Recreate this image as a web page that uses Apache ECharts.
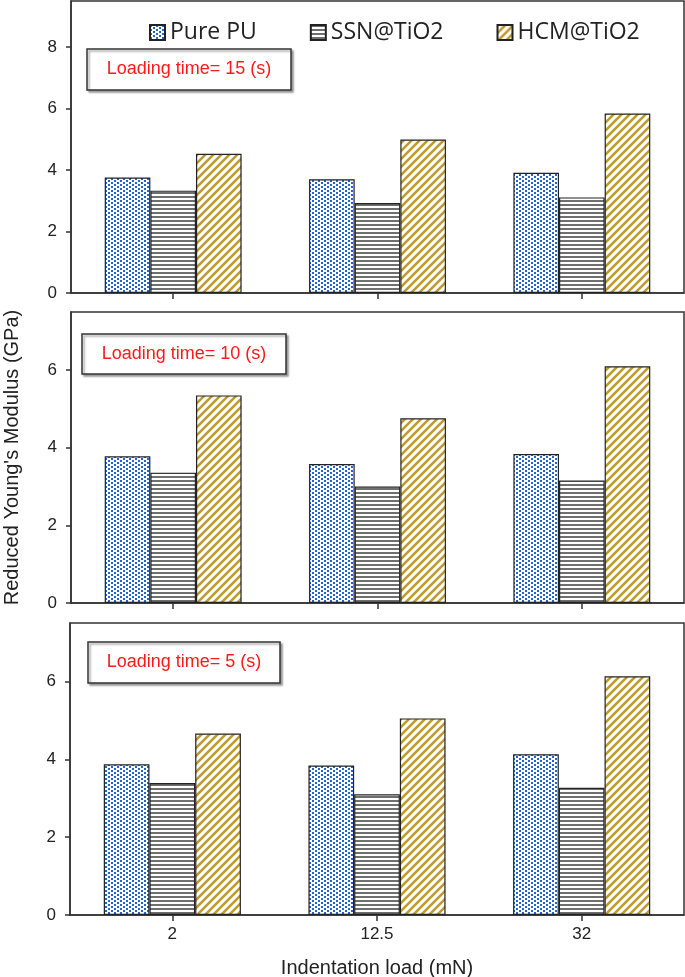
<!DOCTYPE html>
<html>
<head>
<meta charset="utf-8">
<script src="https://cdn.jsdelivr.net/npm/echarts@6/dist/echarts.min.js"></script>
<style>
html,body{margin:0;padding:0;background:#fff;}
#chart{width:685px;height:977px;}
</style>
</head>
<body>
<div id="chart"></div>
<script>
// ---- data ----
var categories = ['2', '12.5', '32'];
var seriesNames = ['Pure PU', 'SSN@TiO2', 'HCM@TiO2'];
var panelLabels = ['Loading time= 15 (s)', 'Loading time= 10 (s)', 'Loading time= 5 (s)'];
var t15_pure = [3.76, 3.70, 3.91];
var t15_ssn  = [3.33, 2.93, 3.11];
var t15_hcm  = [4.53, 4.99, 5.84];
var t10_pure = [3.78, 3.58, 3.84];
var t10_ssn  = [3.36, 3.00, 3.16];
var t10_hcm  = [5.35, 4.76, 6.10];
var t5_pure  = [3.87, 3.84, 4.13];
var t5_ssn   = [3.39, 3.10, 3.27];
var t5_hcm   = [4.66, 5.05, 6.13];
var yTicksTop = [0, 2, 4, 6, 8];
var yTicksLow = [0, 2, 4, 6];
var yMax = [9.5, 7.5, 7.5];

// ---- patterns ----
function mk(w, h, draw) {
  var c = document.createElement('canvas');
  c.width = w; c.height = h;
  var g = c.getContext('2d');
  g.fillStyle = '#fff'; g.fillRect(0, 0, w, h);
  draw(g);
  return { image: c, repeat: 'repeat' };
}
var patDots = mk(6, 4, function (g) {
  g.fillStyle = '#2264d4';
  g.fillRect(0, 0, 2, 2);
  g.fillRect(3, 2, 2, 2);
});
var patStripe = mk(4, 4, function (g) {
  g.fillStyle = '#6f6f6f';
  g.fillRect(0, 0, 4, 2);
});
var patDiag = mk(8, 8, function (g) {
  g.strokeStyle = '#bf9a30';
  g.lineWidth = 2.6;
  g.beginPath();
  g.moveTo(-2, 10); g.lineTo(10, -2);
  g.moveTo(-6, 6); g.lineTo(6, -6);
  g.moveTo(2, 14); g.lineTo(14, 2);
  g.stroke();
});
var patterns = [patDots, patStripe, patDiag];

var panelData = [
  [t15_pure, t15_ssn, t15_hcm],
  [t10_pure, t10_ssn, t10_hcm],
  [t5_pure, t5_ssn, t5_hcm]
];

var grids = [
  { left: 71, right: 1, top: 1, height: 292 },
  { left: 71, right: 1, top: 312, height: 291 },
  { left: 70, right: 1, top: 623, height: 292 }
];
grids.forEach(function (g) {
  g.show = true; g.borderColor = '#333'; g.borderWidth = 1.5; g.backgroundColor = 'transparent';
  g.containLabel = false; g.outerBoundsMode = 'none';
});

var axisLineStyle = { color: '#333', width: 1.5 };
var xAxes = [], yAxes = [], series = [];
for (var p = 0; p < 3; p++) {
  xAxes.push({
    type: 'category', gridIndex: p, data: categories,
    axisLine: { lineStyle: axisLineStyle },
    axisTick: { show: true, alignWithLabel: true, length: 6, lineStyle: axisLineStyle },
    axisLabel: { show: p === 2, margin: 11, color: '#222', fontSize: 17, fontFamily: 'Liberation Sans' },
    name: p === 2 ? 'Indentation load (mN)' : '',
    nameLocation: 'middle', nameGap: 43,
    nameTextStyle: { fontSize: 20, color: '#222', fontFamily: 'Liberation Sans' }
  });
  var ticks = p === 0 ? yTicksTop : yTicksLow;
  yAxes.push({
    type: 'value', gridIndex: p, min: 0, max: yMax[p],
    splitLine: { show: false },
    axisLine: { show: true, lineStyle: axisLineStyle },
    axisTick: { show: true, length: 5, lineStyle: axisLineStyle, customValues: ticks },
    axisLabel: { margin: 14, color: '#222', fontSize: 17, fontFamily: 'Liberation Sans', customValues: ticks },
    name: p === 1 ? "Reduced Young's Modulus (GPa)" : '',
    nameLocation: 'middle', nameGap: 49,
    nameTextStyle: { fontSize: 20, color: '#222', fontFamily: 'Liberation Sans' }
  });
  for (var s = 0; s < 3; s++) {
    series.push({
      type: 'bar', name: seriesNames[s], xAxisIndex: p, yAxisIndex: p,
      data: panelData[p][s],
      barGap: '0%', barCategoryGap: '33%',
      itemStyle: { color: patterns[s], borderColor: '#222', borderWidth: 1.2 },
      emphasis: { disabled: true },
      animation: false
    });
  }
}

var boxes = [
  { x: 87, y: 49, w: 204, h: 41 },
  { x: 82, y: 334, w: 204, h: 40 },
  { x: 88, y: 642, w: 192, h: 41 }
];
var graphics = [];
boxes.forEach(function (b, i) {
  graphics.push({
    type: 'rect', shape: { x: b.x, y: b.y, width: b.w, height: b.h },
    style: { fill: '#fff', stroke: '#333', lineWidth: 1.5,
             shadowColor: 'rgba(0,0,0,0.35)', shadowOffsetX: 2, shadowOffsetY: 2, shadowBlur: 2 },
    z: 10
  });
  graphics.push({
    type: 'text', x: b.x + b.w / 2, y: b.y + b.h / 2,
    style: { text: panelLabels[i], fill: '#ff1a1a', font: '18px "Liberation Sans"',
             align: 'center', verticalAlign: 'middle' },
    z: 11
  });
});

var chart = echarts.init(document.getElementById('chart'), null, { renderer: 'canvas' });
chart.setOption({
  animation: false,
  backgroundColor: '#fff',
  legend: {
    data: seriesNames, left: 144, top: 16, icon: 'rect',
    itemWidth: 15, itemHeight: 15, itemGap: 53,
    textStyle: { fontSize: 23, color: '#222', fontFamily: 'Open Sans' },
    selectedMode: false
  },
  grid: grids,
  xAxis: xAxes,
  yAxis: yAxes,
  series: series,
  graphic: graphics
});
</script>
</body>
</html>
